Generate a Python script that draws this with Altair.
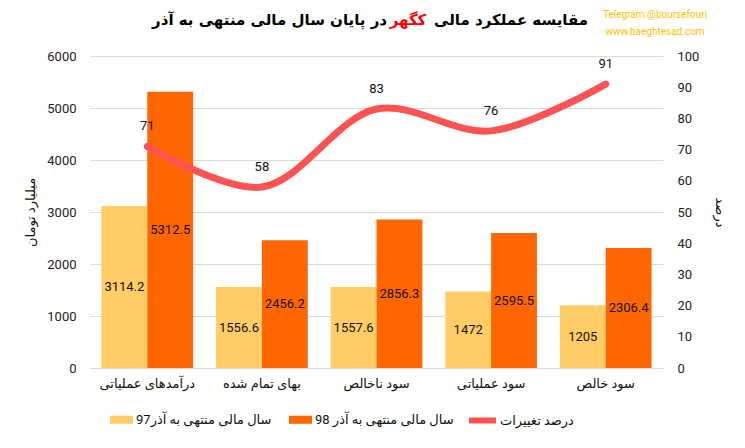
import altair as alt
import pandas as pd

categories = ["درآمدهای عملیاتی", "بهای تمام شده", "سود ناخالص", "سود عملیاتی", "سود خالص"]
values_97 = [3114.2, 1556.6, 1557.6, 1472, 1205]
values_98 = [5312.5, 2456.2, 2856.3, 2595.5, 2306.4]
pct_change = [71, 58, 83, 76, 91]
series_names = ["سال مالی منتهی به آذر97", "سال مالی منتهی به آذر 98"]
line_name = "درصد تغییرات"
title_right = "مقایسه عملکرد مالی"
title_red = "کگهر"
title_left = "در پایان سال مالی منتهی به آذر"
left_axis_title = "میلیارد تومان"
right_axis_title = "درصد"
credit_1 = "Telegram:@boursefouri"
credit_2 = "www.baeghtesad.com"
left_ticks = [0, 1000, 2000, 3000, 4000, 5000, 6000]
right_ticks = [0, 10, 20, 30, 40, 50, 60, 70, 80, 90, 100]

FONT = "Roboto, DejaVu Sans"

bars_df = pd.DataFrame({
    "cat": categories * 2,
    "series": [series_names[0]] * len(categories) + [series_names[1]] * len(categories),
    "value": values_97 + values_98,
})
bars_df["label"] = [f"{v:g}" for v in bars_df["value"]]
line_df = pd.DataFrame({"cat": categories, "pct": pct_change, "name": [line_name] * len(categories)})
line_df["label"] = [f"{v:g}" for v in line_df["pct"]]

x_enc = alt.X(
    "cat:N", sort=categories,
    scale=alt.Scale(paddingInner=0.2, paddingOuter=0.1),
    axis=alt.Axis(title=None, labelAngle=0, labelFontSize=13, labelColor="#111111",
                  labelPadding=9, domain=True, domainColor="#d9d9d9", ticks=False,
                  labelFont=FONT, labelLimit=200),
)
xoff = alt.XOffset("series:N", sort=series_names, scale=alt.Scale(paddingInner=0, paddingOuter=0))
y_left_scale = alt.Scale(domain=[0, 6000], nice=False)
y_right_scale = alt.Scale(domain=[0, 100], nice=False)

left_axis = alt.Axis(orient="left", values=left_ticks, format="d",
                     title=left_axis_title, titleFont=FONT, titleFontSize=13,
                     titleFontWeight="normal", titleColor="#111111", titlePadding=9,
                     labelFont=FONT, labelFontSize=13, labelColor="#222222",
                     labelPadding=14, ticks=False, domain=False,
                     grid=True, gridColor="#d9d9d9")
right_axis = alt.Axis(orient="right", values=right_ticks, format="d",
                      title=right_axis_title, titleFont=FONT, titleFontSize=13,
                      titleFontWeight="normal", titleColor="#111111", titlePadding=14,
                      labelFont=FONT, labelFontSize=13, labelColor="#222222",
                      labelPadding=14, ticks=False, domain=False, grid=False)

base_bars = alt.Chart(bars_df)
bars = base_bars.mark_bar().encode(
    x=x_enc,
    xOffset=xoff,
    y=alt.Y("value:Q", scale=y_left_scale, axis=left_axis),
    color=alt.Color("series:N", sort=series_names,
                    scale=alt.Scale(domain=series_names, range=["#FFCC66", "#FF6600"]),
                    legend=alt.Legend(orient="none", legendX=20, legendY=352,
                                      direction="horizontal", title=None,
                                      symbolType="M-1,-0.35H1V0.35H-1Z", symbolSize=529,
                                      symbolStrokeWidth=0, labelFontSize=13, labelFont=FONT,
                                      labelColor="#111111", labelLimit=300, labelOffset=3,
                                      columnPadding=17)),
)
bar_text = base_bars.transform_calculate(mid="datum.value / 2").mark_text(
    fontSize=13, font=FONT, color="#111111"
).encode(
    x=x_enc,
    xOffset=xoff,
    y=alt.Y("mid:Q", scale=y_left_scale, axis=left_axis),
    text="label:N",
)
left_layer = alt.layer(bars, bar_text)

base_line = alt.Chart(line_df)
line = base_line.mark_line(interpolate="catmull-rom", strokeWidth=7, strokeCap="round").encode(
    x=x_enc,
    y=alt.Y("pct:Q", scale=y_right_scale, axis=right_axis),
    stroke=alt.Stroke("name:N", scale=alt.Scale(domain=[line_name], range=["#FF5353"]),
                      legend=alt.Legend(orient="none", legendX=376, legendY=348, title=None,
                                        symbolType="stroke", symbolSize=729,
                                        symbolStrokeWidth=6, labelFontSize=13, labelFont=FONT,
                                        labelColor="#111111", labelOffset=1, labelLimit=300)),
)
line_text = base_line.mark_text(fontSize=13, font=FONT, color="#111111", dy=-20).encode(
    x=x_enc,
    y=alt.Y("pct:Q", scale=y_right_scale, axis=right_axis),
    text="label:N",
)
right_layer = alt.layer(line, line_text)


def note(text, x, y, **kw):
    return alt.Chart(pd.DataFrame({"t": [text]})).mark_text(**kw).encode(
        x=alt.value(x), y=alt.value(y), text="t:N")


title_kw = dict(fontSize=15, fontWeight="bold", font="DejaVu Sans", baseline="middle")
t1 = note(title_right, 344, -36, align="left", color="#000000", **title_kw)
t2 = note(title_red, 318, -36, align="center", color="#FF0000", **title_kw)
t3 = note(title_left, 297, -36, align="right", color="#000000", **title_kw)
c1 = note(credit_1, 565, -41, align="center", color="#FFC000", fontSize=10, font=FONT)
c2 = note(credit_2, 565, -24, align="center", color="#FFC000", fontSize=10, font=FONT)

chart = alt.layer(left_layer, right_layer, t1, t2, t3, c1, c2).resolve_scale(
    y="independent", color="independent", stroke="independent"
).resolve_axis(y="independent").properties(
    width=573, height=312,
    padding={"left": 82, "right": 74, "top": 48, "bottom": 72},
    autosize=alt.AutoSizeParams(type="none"),
    background="white",
).configure_view(stroke=None)

chart.save("out.html", embed_options={"renderer": "svg", "actions": False})
